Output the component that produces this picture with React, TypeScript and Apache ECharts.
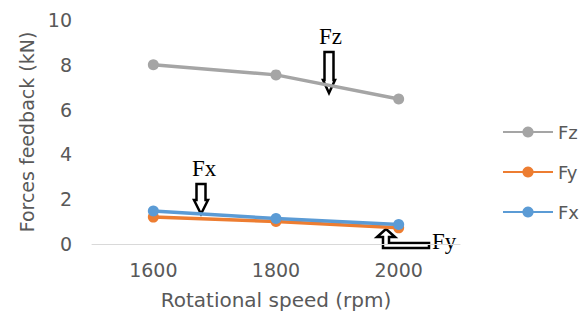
import React, { useEffect, useRef } from "react";
import * as echarts from "echarts";

const categories = ["1600", "1800", "2000"];
const fz = [8.0, 7.55, 6.47];
const fy = [1.2, 1.0, 0.72];
const fx = [1.47, 1.14, 0.87];

const seriesNames = ["Fz", "Fy", "Fx"];
const seriesColors = ["#A5A5A5", "#ED7D31", "#5B9BD5"];

const FONT = "DejaVu Sans";
const SERIF = "23px 'Liberation Serif'";

function arrowDown(cx: number, top: number, shaftBottom: number, tip: number, shaftHalf: number, headHalf: number) {
  return [
    [cx - shaftHalf, top],
    [cx + shaftHalf, top],
    [cx + shaftHalf, shaftBottom],
    [cx + headHalf, shaftBottom],
    [cx, tip],
    [cx - headHalf, shaftBottom],
    [cx - shaftHalf, shaftBottom],
  ];
}

export default function App() {
  const ref = useRef<HTMLDivElement>(null);
  useEffect(() => {
    if (!ref.current) return;
    const chart = echarts.init(ref.current, null, { renderer: "svg" });
    const data = [fz, fy, fx];
    chart.setOption({
      animation: false,
      backgroundColor: "#ffffff",
      grid: { left: 92, right: 122, top: 20, bottom: 76 },
      legend: {
        orient: "vertical",
        left: 497,
        top: 118,
        itemWidth: 50,
        itemHeight: 14,
        itemGap: 22,
        data: seriesNames,
        textStyle: { color: "#595959", fontSize: 18, fontFamily: FONT },
      },
      xAxis: {
        type: "category",
        data: categories,
        boundaryGap: true,
        axisLine: { show: true, lineStyle: { color: "#D9D9D9", width: 1 } },
        axisTick: { show: false },
        axisLabel: { color: "#595959", fontSize: 19, fontFamily: FONT, margin: 16 },
        name: "Rotational speed (rpm)",
        nameLocation: "middle",
        nameGap: 46,
        nameTextStyle: { color: "#595959", fontSize: 20, fontFamily: FONT },
      },
      yAxis: {
        type: "value",
        min: 0,
        max: 10,
        interval: 2,
        axisLine: { show: false },
        axisTick: { show: false },
        splitLine: { show: false },
        axisLabel: { color: "#595959", fontSize: 19, fontFamily: FONT, margin: 20 },
        name: "Forces feedback (kN)",
        nameLocation: "middle",
        nameGap: 52,
        nameTextStyle: { color: "#595959", fontSize: 19, fontFamily: FONT },
      },
      series: seriesNames.map((n, i) => ({
        name: n,
        type: "line",
        data: data[i],
        symbol: "circle",
        symbolSize: 11,
        lineStyle: { width: 3.5, color: seriesColors[i] },
        itemStyle: { color: seriesColors[i] },
      })),
      graphic: [
        { type: "text", left: 319, top: 25, style: { text: "Fz", font: SERIF, fill: "#000" } },
        {
          type: "polygon",
          shape: { points: arrowDown(329, 52, 80, 93, 4.5, 6) },
          style: { fill: "#fff", stroke: "#000", lineWidth: 2.5 },
        },
        { type: "text", left: 192, top: 157, style: { text: "Fx", font: SERIF, fill: "#000" } },
        {
          type: "polygon",
          shape: { points: arrowDown(201, 184, 200, 214, 4.5, 7) },
          style: { fill: "#fff", stroke: "#000", lineWidth: 2.5 },
        },
        { type: "text", left: 432, top: 230, style: { text: "Fy", font: SERIF, fill: "#000" } },
        {
          type: "polygon",
          shape: {
            points: [
              [429, 243],
              [429, 248],
              [383, 248],
              [383, 237],
              [377, 237],
              [386, 229],
              [395, 237],
              [389, 237],
              [389, 243],
            ],
          },
          style: { fill: "#fff", stroke: "#000", lineWidth: 2.5 },
        },
      ],
    });
    return () => chart.dispose();
  }, []);
  return <div ref={ref} style={{ position: "fixed", left: 0, top: 0, width: 582, height: 320 }} />;
}
